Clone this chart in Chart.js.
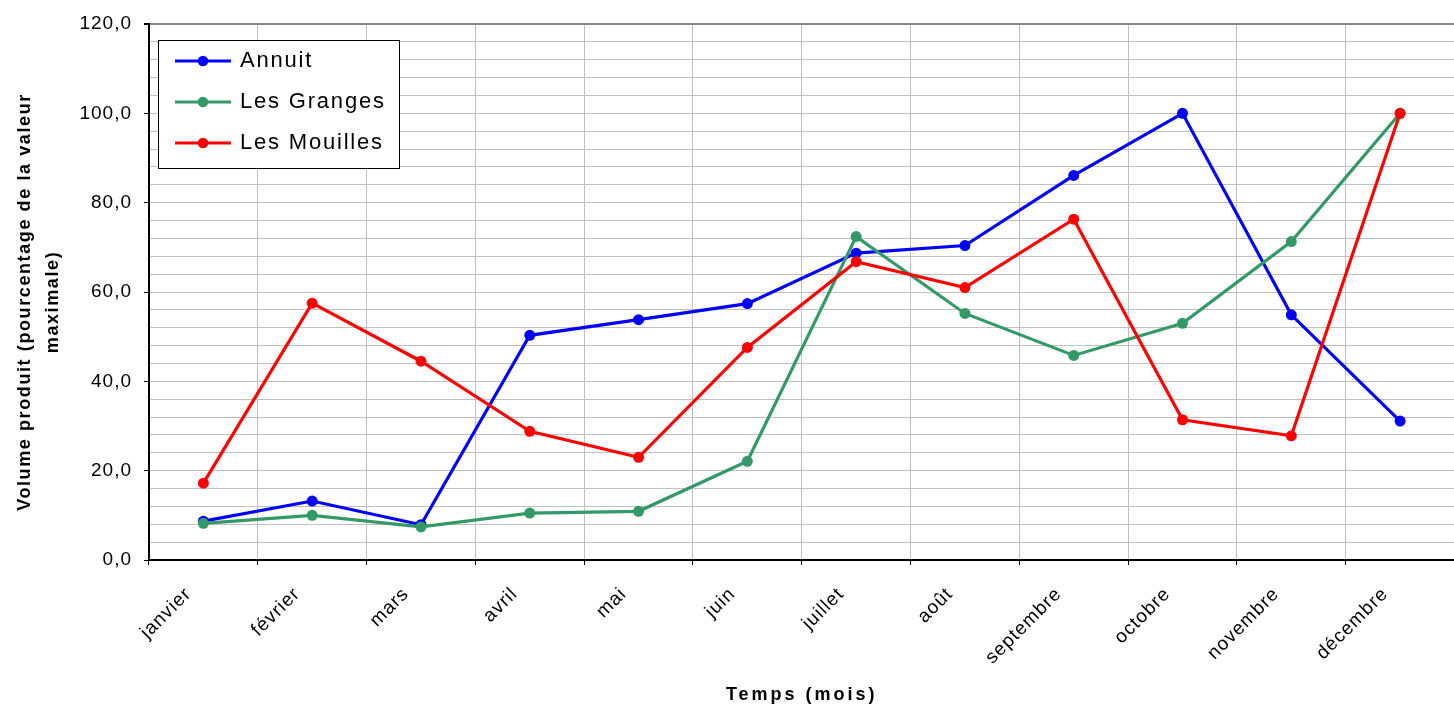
<!DOCTYPE html>
<html lang="fr">
<head>
<meta charset="utf-8">
<title>Volume produit par mois</title>
<script src="https://cdn.jsdelivr.net/npm/chart.js@4.4.1/dist/chart.umd.min.js"></script>
<style>
  html, body { margin: 0; padding: 0; background: #fff; overflow: hidden; }
  #wrap { width: 1460px; height: 709px; }
</style>
</head>
<body>
<div id="wrap"><canvas id="volumeChart" width="1460" height="709"></canvas></div>
<script>
// valeurs (pourcentage de la valeur maximale)
const mois = ['janvier', 'février', 'mars', 'avril', 'mai', 'juin',
              'juillet', 'août', 'septembre', 'octobre', 'novembre', 'décembre'];
const annuit      = [8.7, 13.2, 7.9, 50.3, 53.8, 57.4, 68.7, 70.4, 86.1, 100.0, 54.9, 31.1];
const lesGranges  = [8.2, 10.0, 7.4, 10.5, 10.9, 22.1, 72.4, 55.2, 45.8, 53.0, 71.3, 100.0];
const lesMouilles = [17.2, 57.5, 44.5, 28.8, 23.0, 47.6, 66.8, 61.0, 76.3, 31.4, 27.8, 100.0];
const nomsSeries = ['Annuit', 'Les Granges', 'Les Mouilles'];
const couleurs = ['#0000ff', '#339966', '#ff0000'];
const yMin = 0, yMax = 120, yPas = 4, yPasEtiquette = 20;

Chart.defaults.font.family = '"Liberation Sans", Arial, sans-serif';
Chart.defaults.color = '#000';

// petit dessin ligne + point pour la légende
function iconeLegende(couleur) {
    const c = document.createElement('canvas');
    c.width = 56; c.height = 12;
    const g = c.getContext('2d');
    g.strokeStyle = couleur;
    g.lineWidth = 3;
    g.beginPath(); g.moveTo(0, 6); g.lineTo(56, 6); g.stroke();
    g.fillStyle = couleur;
    g.beginPath(); g.arc(28, 6, 5.3, 0, Math.PI * 2); g.fill();
    return c;
}
const icones = couleurs.map(iconeLegende);

// espace entre les lettres pour un titre d'axe
function espacerTitre(scale, espace, decalY) {
    if (scale._espace) return;
    const orig = scale.drawTitle;
    scale.drawTitle = function() {
        const c = this.ctx;
        const avant = c.letterSpacing;
        c.save();
        c.translate(0, decalY);
        c.letterSpacing = espace;
        orig.apply(this, arguments);
        c.restore();
        c.letterSpacing = avant;
    };
    scale._espace = true;
}

const cadreLegende = {
    id: 'cadreLegende',
    beforeUpdate(chart) { chart.ctx.letterSpacing = '1px'; },
    afterLayout(chart) {
        const lg = chart.legend;
        lg.left = 158;
        lg.top = 31;
    },
    beforeDraw(chart) {
        chart.ctx.letterSpacing = '1px';
        espacerTitre(chart.scales.x, '3px', 0);
        espacerTitre(chart.scales.y, '1.6px', 10);
    },
    afterDraw(chart) {
        const lg = chart.legend, ctx = chart.ctx;
        ctx.save();
        ctx.fillStyle = '#fff';
        ctx.fillRect(lg.left, lg.top + 9, 241, 128);
        ctx.strokeStyle = '#000';
        ctx.lineWidth = 1;
        ctx.strokeRect(lg.left + 0.5, lg.top + 9.5, 241, 128);
        ctx.letterSpacing = '1.8px';
        lg.draw();
        ctx.restore();
    }
};

function serie(i, valeurs, ordre) {
    return {
        label: nomsSeries[i],
        data: valeurs,
        borderColor: couleurs[i],
        backgroundColor: couleurs[i],
        pointBackgroundColor: couleurs[i],
        borderWidth: 3.2,
        pointRadius: 5.5,
        pointHoverRadius: 5.5,
        pointBorderWidth: 0,
        tension: 0,
        order: ordre
    };
}

new Chart(document.getElementById('volumeChart'), {
    type: 'line',
    data: {
        labels: mois,
        datasets: [
            serie(0, annuit, 3),
            serie(1, lesGranges, 2),
            serie(2, lesMouilles, 1)
        ]
    },
    options: {
        responsive: false,
        animation: false,
        events: [],
        layout: { padding: { top: 24, right: 1, left: 0, bottom: 0 } },
        plugins: {
            tooltip: { enabled: false },
            legend: {
                position: 'chartArea',
                align: 'start',
                labels: {
                    usePointStyle: true,
                    pointStyleWidth: 52,
                    padding: 19,
                    color: '#000',
                    font: { size: 22 },
                    sort: (a, b) => a.datasetIndex - b.datasetIndex,
                    generateLabels: function(chart) {
                        const items = Chart.defaults.plugins.legend.labels.generateLabels(chart);
                        items.forEach(it => { it.pointStyle = icones[it.datasetIndex]; });
                        return items;
                    }
                }
            }
        },
        scales: {
            x: {
                offset: true,
                grid: { offset: true, color: '#c0c0c0', tickColor: '#000', tickLength: 5 },
                border: { color: '#000', width: 2 },
                ticks: {
                    autoSkip: false,
                    maxRotation: 45,
                    minRotation: 45,
                    padding: 18,
                    labelOffset: -15,
                    font: { size: 19 }
                },
                title: {
                    display: true,
                    text: 'Temps (mois)',
                    font: { size: 18, weight: 'bold' },
                    padding: { top: 0, bottom: 3 }
                },
                afterFit: function(scale) { scale.height = 149; }
            },
            y: {
                min: yMin,
                max: yMax,
                grid: {
                    color: ctx => ctx.tick.value === yMax ? '#888888' : '#c0c0c0',
                    lineWidth: ctx => ctx.tick.value === yMax ? 2 : 1,
                    tickColor: ctx => ctx.tick.value % yPasEtiquette === 0 ? '#000' : 'rgba(0,0,0,0)',
                    tickLength: 5
                },
                border: { color: '#000', width: 2 },
                ticks: {
                    stepSize: yPas,
                    autoSkip: false,
                    padding: 12,
                    font: { size: 19 },
                    callback: function(value) {
                        if (value % yPasEtiquette !== 0) return '';
                        return value.toFixed(1).replace('.', ',');
                    }
                },
                title: {
                    display: true,
                    text: ['Volume produit (pourcentage de la valeur', 'maximale)'],
                    font: { size: 18, weight: 'bold', lineHeight: 1.55 },
                    padding: { top: 11, bottom: 0 }
                },
                afterFit: function(scale) { scale.width = 149; }
            }
        }
    },
    plugins: [cadreLegende]
});
</script>
</body>
</html>
